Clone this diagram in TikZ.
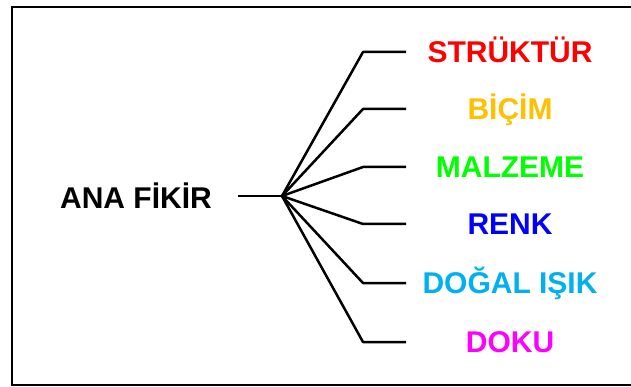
\documentclass[tikz,border=0pt]{standalone}
\usepackage{fontspec}
\setmainfont{Liberation Sans}
\definecolor{kirmizi}{HTML}{FF0000}
\definecolor{turuncu}{HTML}{FFC000}
\definecolor{yesil}{HTML}{00FF00}
\definecolor{mavi}{HTML}{0000FF}
\definecolor{acikmavi}{HTML}{00B0F0}
\definecolor{pembe}{HTML}{FF00FF}
\tikzset{
  dal/.style={line width=2.5pt,black},
  baslik/.style={font=\fontsize{30}{30}\selectfont\bfseries,inner sep=0pt,anchor=base},
}
\begin{document}
\begin{tikzpicture}[x=1pt,y=-1pt]
  \useasboundingbox (0,0) rectangle (631,387);
  \draw[line width=2pt] (631,7) -- (12,7) -- (12,385) -- (631,385);
  \node[baslik] (ana) at (136,209) {ANA FİKİR};
  \coordinate (bas) at (238,196);
  \coordinate (hub) at (282,196);
  \draw[dal] (bas) -- (hub);
  \foreach \i/\y/\renk/\metin in {1/52/kirmizi/STRÜKTÜR,2/109/turuncu/BİÇİM,
      3/167/yesil/MALZEME,4/224/mavi/RENK,5/283/acikmavi/DOĞAL IŞIK,6/342/pembe/DOKU}{
    \coordinate (k\i) at (363,\y);
    \coordinate (e\i) at (406,\y);
    \node[baslik,text=\renk] (d\i) at (510,\y+10.5) {\metin};
    \draw[dal,line join=round] (hub) -- (k\i) -- (e\i);
  }
\end{tikzpicture}
\end{document}
